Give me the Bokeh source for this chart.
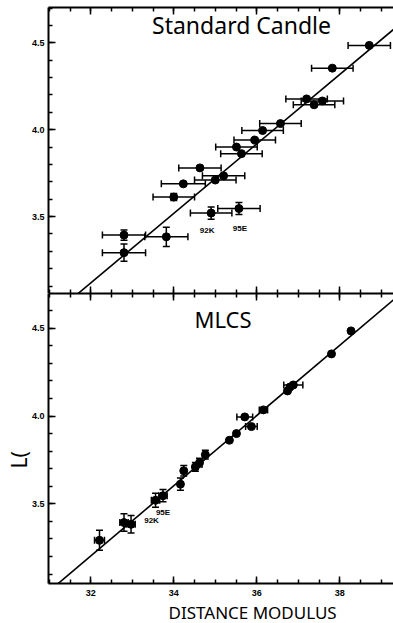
import math
from bokeh.plotting import figure
from bokeh.layouts import column
from bokeh.models import (ColumnDataSource, Whisker, TeeHead, LinearAxis,
                          SingleIntervalTicker, Range1d, Label, Title,
                          PrintfTickFormatter, CustomJSTickFormatter)
from bokeh.core.properties import value
from bokeh.embed import file_html
from bokeh.resources import INLINE

# ---------------- data ----------------
# log(cz) of each supernova (same objects in both panels)
LOGCZ = [3.292, 3.383, 3.393, 3.520, 3.546, 3.612, 3.688, 3.710, 3.734, 3.780,
         3.862, 3.900, 3.940, 3.995, 4.035, 4.143, 4.165, 4.177, 4.354, 4.485]
SN_NAMES = ["", "", "", "92K", "95E", "", "", "", "", "",
            "", "", "", "", "", "", "", "", "", ""]

# Standard candle distance moduli
SC_MU = [32.80, 33.82, 32.80, 34.90, 35.57, 34.00, 34.23, 35.00, 35.20, 34.63,
         35.63, 35.51, 35.95, 36.14, 36.57, 37.38, 37.58, 37.20, 37.82, 38.71]
SC_MU_ERR = [0.52, 0.52, 0.52, 0.50, 0.51, 0.50, 0.53, 0.50, 0.51, 0.51,
             0.50, 0.50, 0.50, 0.50, 0.50, 0.50, 0.51, 0.50, 0.50, 0.51]
SC_LOGCZ_ERR = [0.05, 0.055, 0.03, 0.035, 0.035, 0.02, 0, 0, 0, 0,
                0, 0, 0, 0, 0, 0, 0, 0, 0, 0]

# MLCS distance moduli
ML_MU = [32.21, 32.97, 32.80, 33.56, 33.74, 34.16, 34.24, 34.52, 34.62, 34.76,
         35.34, 35.51, 35.87, 35.71, 36.16, 36.74, 36.80, 36.88, 37.80, 38.27]
ML_MU_ERR = [0.12, 0.10, 0.10, 0.10, 0.10, 0, 0, 0, 0, 0,
             0, 0, 0.14, 0.19, 0.10, 0, 0, 0.23, 0, 0]
ML_LOGCZ_ERR = [0.057, 0.05, 0.05, 0.04, 0.035, 0.035, 0.03, 0.025, 0.025, 0.025,
                0, 0, 0, 0, 0, 0, 0, 0, 0, 0]

# Hubble-law fits: log(cz) = slope * mu + intercept
SC_FIT = (0.2, -3.282)
ML_FIT = (0.2, -3.197)

X_TICK_INTERVAL = 2
Y_TICK_INTERVAL = 0.5

# ---------------- layout ----------------
x_range = Range1d(30.981, 39.294)
TICK_FONT = "Liberation Sans"
TITLE_FONT = "Noto Sans"


def style_axis(ax, labels):
    ax.major_tick_in = 7
    ax.major_tick_out = 0
    ax.minor_tick_in = 4
    ax.minor_tick_out = 0
    ax.axis_line_width = 2
    ax.major_tick_line_width = 1.5
    ax.minor_tick_line_width = 1.5
    ax.axis_line_color = "black"
    ax.major_tick_line_color = "black"
    ax.minor_tick_line_color = "black"
    if labels:
        ax.major_label_text_font = TICK_FONT
        ax.major_label_text_font_style = "bold"
        ax.major_label_text_font_size = "9px"
        ax.major_label_text_color = "black"
    else:
        ax.formatter = CustomJSTickFormatter(code="return ''")
        ax.major_label_text_font_size = "1px"
        ax.major_label_standoff = 0


def make_panel(height, y_start, y_end, mu, mu_err, logcz_err, fit, bottom):
    p = figure(width=393, height=height, x_range=x_range,
               y_range=Range1d(y_start, y_end),
               x_axis_location=None, y_axis_location=None,
               output_backend="svg", toolbar_location=None,
               min_border_left=48, min_border_right=0,
               min_border_top=0 if bottom else 7,
               min_border_bottom=40 if bottom else 0)
    p.outline_line_color = None
    p.grid.visible = False
    p.background_fill_color = "white"
    p.border_fill_color = "white"

    xt = SingleIntervalTicker(interval=X_TICK_INTERVAL, num_minor_ticks=4)
    yt = SingleIntervalTicker(interval=Y_TICK_INTERVAL, num_minor_ticks=5)

    top_ax = LinearAxis(ticker=xt)
    style_axis(top_ax, False)
    p.add_layout(top_ax, "above")

    bot_ax = LinearAxis(ticker=xt)
    style_axis(bot_ax, bottom)
    if bottom:
        bot_ax.major_label_standoff = 6
    p.add_layout(bot_ax, "below")

    left_ax = LinearAxis(ticker=yt)
    style_axis(left_ax, True)
    left_ax.formatter = PrintfTickFormatter(format="%.1f")
    left_ax.major_label_standoff = 4
    p.add_layout(left_ax, "left")

    # fit line across the x range
    xs = [x_range.start, x_range.end]
    ys = [fit[0] * v + fit[1] for v in xs]
    p.line(xs, ys, line_color="black", line_width=1.6)

    # horizontal error bars
    hx = [i for i in range(len(mu)) if mu_err[i] > 0]
    hsrc = ColumnDataSource(dict(
        y=[LOGCZ[i] for i in hx],
        lo=[mu[i] - mu_err[i] for i in hx],
        hi=[mu[i] + mu_err[i] for i in hx]))
    p.add_layout(Whisker(source=hsrc, base="y", lower="lo", upper="hi",
                         dimension="width", line_width=1.5, line_color="black",
                         lower_head=TeeHead(size=7, line_width=1.5),
                         upper_head=TeeHead(size=7, line_width=1.5)))
    # vertical error bars
    vy = [i for i in range(len(mu)) if logcz_err[i] > 0]
    vsrc = ColumnDataSource(dict(
        x=[mu[i] for i in vy],
        lo=[LOGCZ[i] - logcz_err[i] for i in vy],
        hi=[LOGCZ[i] + logcz_err[i] for i in vy]))
    p.add_layout(Whisker(source=vsrc, base="x", lower="lo", upper="hi",
                         dimension="height", line_width=1.5, line_color="black",
                         lower_head=TeeHead(size=7, line_width=1.5),
                         upper_head=TeeHead(size=7, line_width=1.5)))

    p.scatter(mu, LOGCZ, size=8, marker="circle", fill_color="black",
              line_color="black")
    return p


top = make_panel(293, 3.057, 4.703, SC_MU, SC_MU_ERR, SC_LOGCZ_ERR, SC_FIT, False)
bot = make_panel(330, 3.046, 4.698, ML_MU, ML_MU_ERR, ML_LOGCZ_ERR, ML_FIT, True)


# supernova name labels
def add_names(p, mu, offsets):
    idx = [i for i in range(len(SN_NAMES)) if SN_NAMES[i]]
    src = ColumnDataSource(dict(
        x=[mu[i] for i in idx], y=[LOGCZ[i] for i in idx],
        t=[SN_NAMES[i] for i in idx],
        dx=[offsets[SN_NAMES[i]][0] for i in idx],
        dy=[offsets[SN_NAMES[i]][1] for i in idx]))
    p.text(x="x", y="y", text="t", x_offset="dx", y_offset="dy", source=src,
           text_font=value("Liberation Sans"), text_font_style="bold",
           text_font_size="8px", text_align="center", text_baseline="middle",
           text_color="black")


add_names(top, SC_MU, {"92K": (-4, 17), "95E": (1, 20)})
add_names(bot, ML_MU, {"92K": (-4, 20), "95E": (0, 17)})

# panel titles
top.add_layout(Label(x=35.632, y=4.600, text="Standard Candle",
                     text_font=TITLE_FONT, text_font_size="23px",
                     text_align="center", text_baseline="alphabetic",
                     text_color="black"))
bot.add_layout(Label(x=35.186, y=4.550, text="MLCS",
                     text_font=TITLE_FONT, text_font_size="22px",
                     text_align="center", text_baseline="alphabetic",
                     text_color="black"))

# axis titles
bot.add_layout(Title(text="DISTANCE MODULUS", align="left", offset=120,
                     standoff=0, text_font=TITLE_FONT, text_font_size="17px",
                     text_font_style="normal", text_color="black"), "below")
bot.add_layout(Title(text="L(", align="left", offset=115, standoff=-9,
                     text_font=TITLE_FONT, text_font_size="21px",
                     text_font_style="normal", text_color="black"), "left")

layout = column(top, bot, spacing=0)
open("out.html", "w").write(file_html(layout, INLINE))
